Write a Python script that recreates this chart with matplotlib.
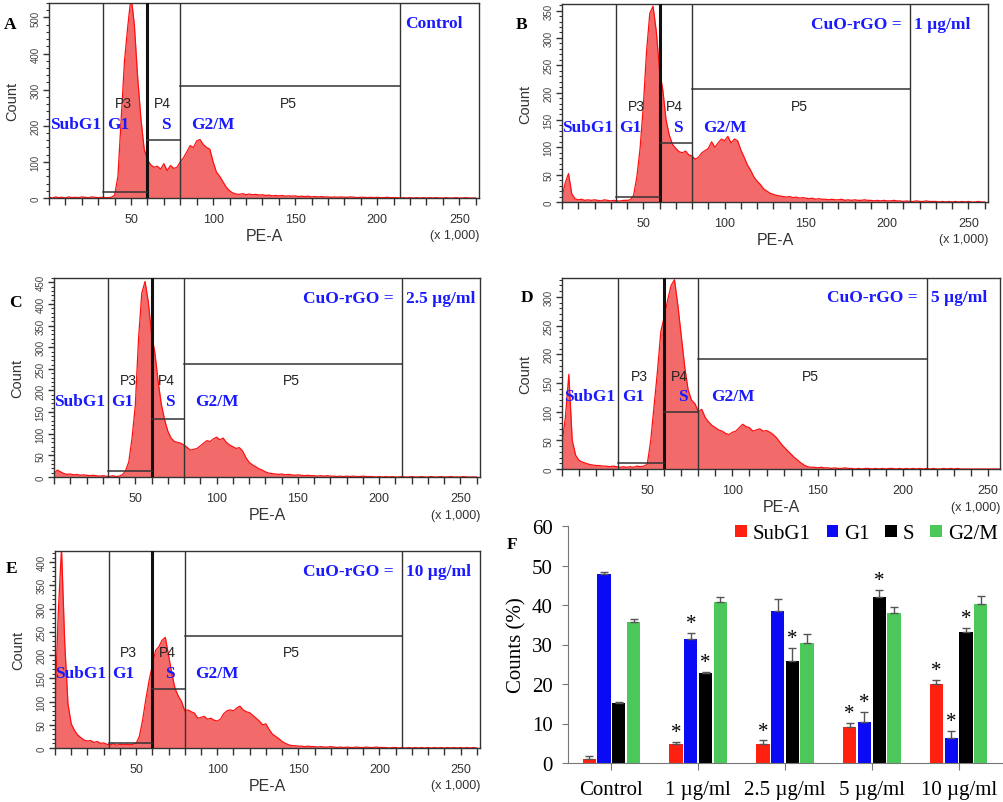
import numpy as np
import matplotlib
matplotlib.use('Agg')
import matplotlib.pyplot as plt
from matplotlib.patches import Patch
from matplotlib.ticker import MultipleLocator

plt.rcParams['font.family'] = ['Liberation Sans', 'DejaVu Sans']

#%% histogram data (PE-A x 1,000, bins every 2)
pe = np.arange(0, 262, 2)

count_a = [2, 0, 3, 1, 2, 0, 3, 1, 2, 1,
           3, 2, 1, 3, 2, 1, 2, 1, 1, 2,
           8, 60, 220, 380, 475, 560, 480, 335, 220, 135,
           105, 92, 85, 88, 80, 95, 76, 90, 82, 85,
           100, 112, 128, 145, 140, 158, 162, 148, 140, 135,
           100, 72, 60, 45, 30, 20, 14, 11, 10, 12,
           9, 11, 9, 10, 8, 9, 7, 8, 6, 7,
           6, 7, 5, 6, 5, 6, 4, 5, 4, 5,
           3, 4, 3, 4, 3, 3, 2, 3, 2, 3,
           2, 2, 3, 2, 1, 2, 2, 1, 2, 1,
           2, 1, 1, 2, 1, 1, 1, 0, 1, 0,
           1, 0, 1, 0, 1, 0, 1, 0, 1, 0,
           0, 1, 0, 0, 1, 0, 0, 1, 0, 0,
           0]

count_b = [10, 35, 52, 15, 6, 4, 5, 3, 4, 3,
           4, 3, 2, 4, 3, 2, 3, 2, 2, 3,
           3, 4, 12, 45, 97, 175, 275, 345, 358, 312,
           240, 205, 150, 122, 105, 98, 92, 90, 93, 86,
           84, 78, 82, 90, 94, 98, 110, 100, 108, 115,
           112, 120, 108, 115, 112, 95, 82, 68, 58, 46,
           38, 32, 24, 20, 16, 14, 12, 11, 10, 9,
           10, 8, 9, 7, 8, 7, 6, 7, 5, 6,
           5, 5, 4, 5, 4, 4, 5, 3, 4, 3,
           4, 3, 3, 4, 3, 3, 2, 3, 2, 3,
           2, 2, 3, 2, 2, 1, 2, 1, 1, 2,
           1, 1, 2, 1, 1, 1, 0, 1, 0, 1,
           0, 1, 0, 1, 0, 1, 0, 0, 1, 0,
           0]

count_c = [8, 16, 12, 8, 6, 7, 5, 6, 4, 5,
           4, 3, 4, 3, 2, 3, 2, 1, 3, 1,
           2, 5, 14, 35, 90, 165, 320, 425, 452, 405,
           330, 288, 222, 168, 133, 106, 90, 82, 80, 78,
           74, 68, 62, 64, 66, 72, 78, 84, 82, 88,
           92, 86, 90, 80, 74, 70, 66, 68, 60, 45,
           34, 28, 24, 19, 16, 12, 9, 8, 7, 6,
           7, 5, 6, 5, 4, 5, 4, 3, 4, 3,
           3, 2, 3, 2, 3, 2, 2, 1, 2, 1,
           2, 1, 2, 1, 1, 2, 1, 1, 1, 0,
           1, 0, 1, 0, 1, 0, 0, 1, 0, 0,
           1, 0, 0, 1, 0, 0, 1, 0, 0, 1,
           0, 0, 1, 0, 0, 0, 1, 0, 0, 0,
           0]

count_d = [45, 90, 165, 50, 24, 15, 12, 10, 8, 7,
           6, 6, 5, 5, 4, 5, 4, 3, 4, 3,
           4, 3, 5, 4, 5, 8, 48, 110, 170, 240,
           265, 295, 320, 330, 285, 232, 178, 138, 120, 114,
           100, 104, 90, 82, 76, 72, 68, 66, 62, 60,
           64, 66, 72, 78, 74, 72, 66, 68, 70, 66,
           67, 64, 60, 54, 46, 39, 33, 27, 21, 16,
           11, 7, 4, 3, 3, 2, 3, 2, 2, 1,
           2, 1, 1, 2, 1, 1, 0, 1, 0, 1,
           1, 0, 1, 0, 1, 0, 1, 1, 0, 1,
           0, 1, 0, 1, 0, 1, 0, 1, 0, 1,
           0, 0, 1, 0, 1, 0, 1, 0, 0, 0,
           0, 0, 0, 0, 0, 0, 0, 0, 0, 0,
           0]

count_e = [90, 290, 430, 225, 95, 52, 38, 28, 22, 17,
           15, 16, 12, 14, 10, 11, 8, 7, 9, 6,
           8, 7, 8, 7, 8, 10, 25, 60, 105, 145,
           178, 210, 218, 232, 238, 200, 160, 128, 112, 100,
           80, 82, 78, 75, 64, 66, 68, 62, 64, 60,
           58, 62, 74, 80, 82, 80, 86, 90, 82, 78,
           76, 70, 64, 58, 50, 52, 40, 30, 25, 20,
           14, 10, 7, 5, 5, 4, 4, 3, 4, 3,
           3, 2, 3, 2, 2, 3, 2, 1, 2, 1,
           2, 1, 1, 2, 1, 1, 2, 1, 1, 2,
           1, 1, 1, 0, 1, 1, 0, 1, 0, 1,
           0, 1, 0, 1, 0, 1, 0, 1, 0, 1,
           0, 1, 0, 1, 0, 1, 0, 1, 0, 1,
           0]

# gate heights P3, P4, P5 for each panel
gates_a = [18, 161, 309]
gates_b = [10, 107, 207]
gates_c = [13, 135, 262]
gates_d = [10, 99, 192]
gates_e = [11, 126, 242]

ymax_list = [540, 362, 460, 333, 424]
ymajor_list = [100, 50, 50, 50, 50]
dose_list = ['Control', '1 µg/ml', '2.5 µg/ml', '5 µg/ml', '10 µg/ml']
letters = ['A', 'B', 'C', 'D', 'E']

#%% bar chart data
groups = ['Control', '1 µg/ml', '2.5 µg/ml', '5 µg/ml', '10 µg/ml']
phases = ['SubG1', 'G1', 'S', 'G2/M']
subg1 = [1.0, 4.7, 4.7, 9.0, 19.9]
subg1_err = [0.8, 0.7, 1.1, 1.2, 1.2]
g1 = [47.8, 31.3, 38.6, 10.5, 6.3]
g1_err = [0.5, 1.7, 2.8, 2.5, 1.9]
s_phase = [15.2, 22.7, 25.9, 42.1, 33.1]
s_err = [0.3, 0.4, 3.3, 1.7, 1.2]
g2m = [35.8, 40.7, 30.4, 38.1, 40.3]
g2m_err = [0.7, 1.4, 2.3, 1.5, 2.0]
subg1_sig = [0, 1, 1, 1, 1]
g1_sig = [0, 1, 0, 1, 1]
s_sig = [0, 1, 1, 1, 1]
g2m_sig = [0, 0, 0, 0, 0]

#%% figure
W, H = 1004, 803
fig = plt.figure(figsize=(W / 100, H / 100), dpi=100)

def px_axes(left, top, right, bottom):
    return fig.add_axes([left / W, 1 - bottom / H, (right - left) / W, (bottom - top) / H])

boxes = [(49, 4, 479, 199), (562, 5, 988, 203), (54, 279, 480, 478),
         (562, 279, 1000, 470), (55, 552, 480, 749)]
xmax_list = [262, 262, 262, 257, 262]
counts = [count_a, count_b, count_c, count_d, count_e]
gates = [gates_a, gates_b, gates_c, gates_d, gates_e]
letter_pos = [(10, 25), (522, 25), (15, 303), (527, 298), (12, 569)]

edge = '#333333'
serif = ['Liberation Serif', 'DejaVu Serif']
blue = '#1a1aff'

for i in range(5):
    ax = px_axes(*boxes[i])
    c = counts[i]
    ax.fill_between(pe, c, color='#f26a6a', lw=0, zorder=1)
    ax.plot(pe, c, color='#ff1010', lw=0.9, zorder=2)
    ax.set_xlim(0, xmax_list[i])
    ax.set_ylim(0, ymax_list[i])

    # gates
    g3, g4, g5 = gates[i]
    for xv in [33, 80, 214]:
        ax.axvline(xv, color=edge, lw=1.0, zorder=3)
    ax.axvline(60, color='#111111', lw=2.2, zorder=3)
    ax.plot([33, 60], [g3, g3], color=edge, lw=1.1, zorder=3)
    ax.plot([60, 80], [g4, g4], color=edge, lw=1.1, zorder=3)
    ax.plot([80, 214], [g5, g5], color=edge, lw=1.1, zorder=3)

    tr = ax.get_xaxis_transform()
    for lab, xv in zip(['P3', 'P4', 'P5'], [45.5, 69, 146]):
        ax.text(xv, 0.487, lab, transform=tr, ha='center', va='center',
                fontsize=10, color='#222222', zorder=4)
    for lab, xv in zip(['SubG1', 'G1', 'S', 'G2/M'], [16, 42, 71, 100]):
        ax.text(xv, 0.38, lab, transform=tr, ha='center', va='center',
                fontsize=12.5, fontweight='bold', family=serif, color=blue, zorder=5)
    if i == 0:
        ax.text(217, 0.9, 'Control', transform=tr, ha='left', va='center',
                fontsize=12.5, fontweight='bold', family=serif, color=blue)
    else:
        ax.text(209, 0.9, 'CuO-rGO =', transform=tr, ha='right', va='center',
                fontsize=12.5, fontweight='bold', family=serif, color=blue)
        ax.text(216.5, 0.9, dose_list[i], transform=tr, ha='left', va='center',
                fontsize=12.5, fontweight='bold', family=serif, color=blue)

    ax.xaxis.set_major_locator(MultipleLocator(50))
    ax.xaxis.set_minor_locator(MultipleLocator(10))
    ax.set_xticks([50, 100, 150, 200, 250])
    ax.yaxis.set_major_locator(MultipleLocator(ymajor_list[i]))
    ax.yaxis.set_minor_locator(MultipleLocator(ymajor_list[i] / 5))
    ax.tick_params(axis='x', which='both', direction='out', length=5, width=1,
                   color=edge, labelsize=9, labelcolor='#333333', pad=6)
    ax.tick_params(axis='y', which='major', direction='out', length=4, width=1,
                   color=edge, labelsize=7, labelcolor='#444444', pad=2)
    ax.tick_params(axis='y', which='minor', direction='out', length=2.5, width=0.8, color=edge)
    for t in ax.get_yticklabels():
        t.set_rotation(90)
        t.set_va('center')
    for sp in ax.spines.values():
        sp.set_color(edge)
        sp.set_linewidth(1.0)

    ax.annotate('PE-A', xy=(0.5, 0), xycoords='axes fraction', xytext=(0, -27),
                textcoords='offset points', ha='center', va='center', fontsize=11.5,
                color='#333333')
    ax.annotate('(x 1,000)', xy=(1, 0), xycoords='axes fraction', xytext=(0, -27),
                textcoords='offset points', ha='right', va='center', fontsize=9,
                color='#333333')
    ax.annotate('Count', xy=(0, 0.5), xycoords='axes fraction', xytext=(-26.5, 0),
                textcoords='offset points', ha='center', va='center', fontsize=10.5,
                rotation=90, color='#333333')

    lx, ly = letter_pos[i]
    fig.text(lx / W, 1 - ly / H, letters[i], ha='center', va='center', fontsize=12.5,
             fontweight='bold', family=serif)

#%% panel F bar chart
axf = px_axes(568, 527, 1002, 764)
x = np.arange(len(groups))
bw = 0.153
pitch = 0.17
series = [subg1, g1, s_phase, g2m]
errs = [subg1_err, g1_err, s_err, g2m_err]
sigs = [subg1_sig, g1_sig, s_sig, g2m_sig]
colors = ['#ff2010', '#0a0af5', '#000000', '#4cc75a']
for k in range(4):
    xs = x + (k - 1.5) * pitch
    axf.bar(xs, series[k], width=bw, color=colors[k], zorder=2)
    axf.errorbar(xs, series[k], yerr=[np.zeros(len(groups)), errs[k]], fmt='none',
                 ecolor='#555555', elinewidth=1.0, capsize=3, capthick=1.0, zorder=3)
    for j in range(len(groups)):
        if sigs[k][j]:
            axf.text(xs[j], series[k][j] + errs[k][j] + 2.3, '*', ha='center', va='center',
                     fontsize=15, family=serif, zorder=4)

axf.set_xlim(-0.5, 4.5)
axf.set_ylim(0, 60)
axf.set_yticks(range(0, 61, 10))
axf.set_xticks(x)
axf.set_xticklabels(groups, family=serif, fontsize=15)
for t in axf.get_yticklabels():
    t.set_family(serif)
    t.set_fontsize(15)
axf.tick_params(axis='x', direction='out', length=5, color='#777777', pad=7)
axf.tick_params(axis='y', direction='out', length=4, color='#777777', pad=7)
axf.spines['top'].set_visible(False)
axf.spines['right'].set_visible(False)
axf.spines['left'].set_color('#777777')
axf.spines['bottom'].set_color('#777777')
axf.set_ylabel('Counts (%)', family=serif, fontsize=15, labelpad=4)

handles = [Patch(facecolor=colors[k], label=phases[k]) for k in range(4)]
leg = axf.legend(handles=handles, loc='upper right', bbox_to_anchor=(1.0, 1.025), ncol=4,
                 frameon=False, borderaxespad=0, borderpad=0.2, handlelength=0.55,
                 handleheight=0.55, handletextpad=0.3, columnspacing=0.75,
                 prop={'family': serif, 'size': 15})

fig.text(512 / W, 1 - 545 / H, 'F', ha='center', va='center', fontsize=12.5,
         fontweight='bold', family=serif)

fig.savefig('out.png', dpi=100)
